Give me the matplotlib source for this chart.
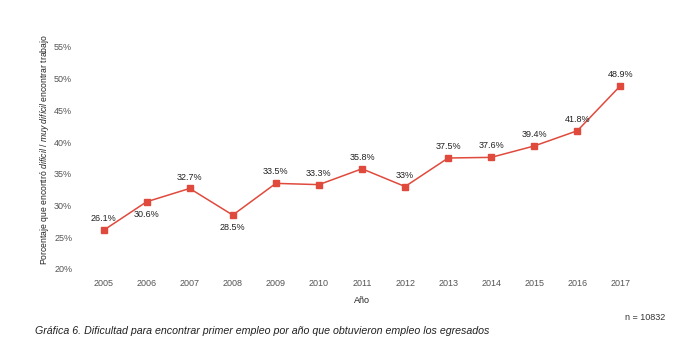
import matplotlib
matplotlib.use("Agg")
import matplotlib.pyplot as plt

plt.rcParams['font.family'] = ['Liberation Sans', 'DejaVu Sans']
plt.rcParams['mathtext.fontset'] = 'custom'
plt.rcParams['mathtext.rm'] = 'Liberation Sans'
plt.rcParams['mathtext.it'] = 'Liberation Sans:italic'

years = ["2005", "2006", "2007", "2008", "2009", "2010", "2011", "2012", "2013", "2014", "2015", "2016", "2017"]
values = [26.1, 30.6, 32.7, 28.5, 33.5, 33.3, 35.8, 33.0, 37.5, 37.6, 39.4, 41.8, 48.9]
labels = ["26.1%", "30.6%", "32.7%", "28.5%", "33.5%", "33.3%", "35.8%", "33%", "37.5%", "37.6%", "39.4%", "41.8%", "48.9%"]
below = [False, True, False, True, False, False, False, False, False, False, False, False, False]
yticks = [20, 25, 30, 35, 40, 45, 50, 55]

color = "#e04a3c"
fig = plt.figure(figsize=(6.75, 3.52), dpi=100)
ax = fig.add_axes([82/675, 1 - 269/352, 560/675, 222/352])

x = list(range(len(years)))
ax.plot(x, values, color=color, lw=1.1, marker='s', markersize=5, zorder=3)
for xi, v, lab, b in zip(x, values, labels, below):
    if b:
        ax.annotate(lab, (xi, v), xytext=(0, -6), textcoords='offset points',
                    ha='center', va='top', fontsize=6.5, color='#222222')
    else:
        ax.annotate(lab, (xi, v), xytext=(0, 5), textcoords='offset points',
                    ha='center', va='bottom', fontsize=6.5, color='#222222')

ax.set_xlim(-0.5, len(years) - 0.5)
ax.set_ylim(20, 55)
ax.set_xticks(x)
ax.set_xticklabels(years)
ax.set_yticks(yticks)
ax.set_yticklabels([f"{t}%" for t in yticks])
for s in ax.spines.values():
    s.set_visible(False)
ax.tick_params(axis='both', length=0, labelsize=6.5, labelcolor='#555555')
ax.tick_params(axis='x', pad=7)
ax.tick_params(axis='y', pad=7)

ax.set_xlabel("Año", fontsize=6.5, color='#222222', labelpad=6)
fig.text(45/675, 1 - 150/352,
         r"Porcentaje que encontró $\it{difícil\ /\ muy\ difícil}$ encontrar trabajo",
         rotation=90, ha='center', va='center', fontsize=6.2, color='#222222')
fig.text(665/675, 1 - 318/352, "n = 10832", ha='right', va='center', fontsize=6.5, color='#333333')
fig.text(35/675, 1 - 331/352,
         "Gráfica 6. Dificultad para encontrar primer empleo por año que obtuvieron empleo los egresados",
         ha='left', va='center', fontsize=7.7, style='italic', color='#222222')

fig.savefig("out.png", dpi=100, facecolor='white')
